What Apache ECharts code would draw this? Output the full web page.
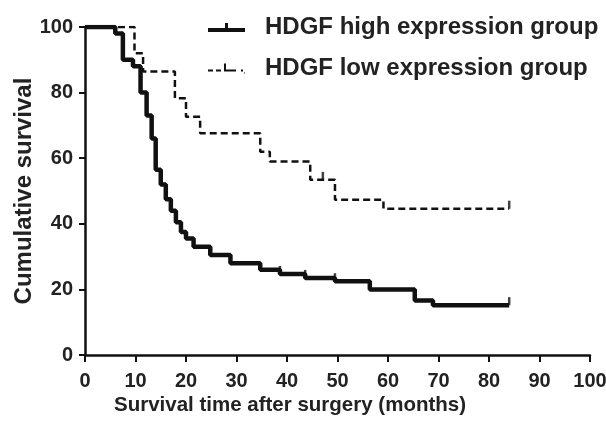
<!DOCTYPE html>
<html>
<head>
<meta charset="utf-8">
<script src="https://cdn.jsdelivr.net/npm/echarts@6/dist/echarts.min.js"></script>
<style>
body { margin: 0; background: #fff; }
#main { width: 606px; height: 421px; }
</style>
</head>
<body>
<div id="main"></div>
<script>
// Kaplan-Meier steps
var highTime = [0, 6, 7.5, 9.5, 11, 12.2, 13.2, 14, 15, 16, 17, 18, 19, 20, 21.5, 24.8, 28.8, 34.7, 38.6, 43.6, 49.5, 56.4, 65.3, 68.9, 84];
var highSurv = [100, 98, 90, 88, 80, 73, 66, 56.5, 52, 47.5, 44, 40.5, 37.5, 35.5, 33, 30.5, 28, 26, 24.7, 23.5, 22.5, 20, 16.6, 15.2, 15.2];
var lowTime = [0, 9.8, 11.5, 17.8, 20, 22.8, 34.7, 36.6, 44.6, 49.5, 59.1, 84];
var lowSurv = [100, 92, 86.4, 78.3, 72.6, 67.6, 62, 59, 53.4, 47.3, 44.6, 44.6];
// censored marks
var highCensorTime = [38.6, 43.6, 49.5, 84];
var highCensorSurv = [24.7, 23.5, 22.5, 15.2];
var lowCensorTime = [47.1, 84];
var lowCensorSurv = [53.4, 44.6];

var xTicks = [0, 10, 20, 30, 40, 50, 60, 70, 80, 90, 100];
var yTicks = [0, 20, 40, 60, 80, 100];
var seriesNames = ['HDGF high expression group', 'HDGF low expression group'];

function pairs(xs, ys) {
    var out = [];
    xs.forEach(function (v, i) { out.push([v, ys[i]]); });
    return out;
}

var txt = '#222';
var font = 'Liberation Sans, Arial, sans-serif';

var myChart = echarts.init(document.getElementById('main'), null, { renderer: 'canvas' });
var option = {
    animation: false,
    backgroundColor: '#fff',
    grid: { left: 85, right: 16, top: 27, bottom: 66, containLabel: false, outerBoundsMode: 'none' },
    legend: {
        orient: 'vertical',
        left: 208,
        top: 15,
        padding: 0,
        itemWidth: 37,
        itemHeight: 12,
        itemGap: 16,
        data: [
            { name: seriesNames[0], icon: 'path://M0,7H37V11H0Z M17,2H20V8H17Z' },
            { name: seriesNames[1], icon: 'path://M0,8H5V10H0Z M8,8H13V10H8Z M16,2H18V10H16Z M18,8H28V10H18Z M33,8H35V10H33Z M36,11H37V12H36Z' }
        ],
        textStyle: {
            color: txt, fontFamily: font, fontWeight: 'bold', fontSize: 24,
            lineHeight: 25, padding: [0, 0, 0, 15]
        }
    },
    xAxis: {
        type: 'value',
        min: xTicks[0],
        max: xTicks[xTicks.length - 1],
        interval: 10,
        name: 'Survival time after surgery (months)',
        nameLocation: 'middle',
        nameGap: 40,
        nameMoveOverlap: false,
        nameTextStyle: { color: txt, fontFamily: font, fontWeight: 'bold', fontSize: 20.5, padding: [0, 95, 0, 0] },
        axisLine: { lineStyle: { color: '#111', width: 2.5 } },
        axisTick: { length: 7, lineStyle: { color: '#111', width: 2 } },
        axisLabel: { color: txt, fontFamily: font, fontWeight: 'bold', fontSize: 20, margin: 16 },
        splitLine: { show: false }
    },
    yAxis: {
        type: 'value',
        min: yTicks[0],
        max: yTicks[yTicks.length - 1],
        interval: 20,
        name: 'Cumulative survival',
        nameLocation: 'middle',
        nameGap: 49,
        nameMoveOverlap: false,
        nameTextStyle: { color: txt, fontFamily: font, fontWeight: 'bold', fontSize: 24 },
        axisLine: { lineStyle: { color: '#111', width: 2.5 } },
        axisTick: { length: 6, lineStyle: { color: '#111', width: 2 } },
        axisLabel: { color: txt, fontFamily: font, fontWeight: 'bold', fontSize: 20, margin: 12 },
        splitLine: { show: false }
    },
    series: [
        {
            name: seriesNames[1],
            type: 'line',
            step: 'end',
            symbol: 'none',
            data: pairs(lowTime, lowSurv),
            color: '#111',
            lineStyle: { color: '#111', width: 2.5, type: [7, 4] },
            z: 2
        },
        {
            name: seriesNames[0],
            type: 'line',
            step: 'end',
            symbol: 'none',
            data: pairs(highTime, highSurv),
            color: '#111',
            lineStyle: { color: '#111', width: 4.5 },
            z: 3
        },
        {
            name: 'highCensor',
            type: 'scatter',
            symbol: 'rect',
            symbolSize: [2.5, 8],
            symbolOffset: [0, -4],
            data: pairs(highCensorTime, highCensorSurv),
            itemStyle: { color: '#111' },
            z: 4
        },
        {
            name: 'lowCensor',
            type: 'scatter',
            symbol: 'rect',
            symbolSize: [2.5, 8],
            symbolOffset: [0, -4],
            data: pairs(lowCensorTime, lowCensorSurv),
            itemStyle: { color: '#111' },
            z: 4
        }
    ]
};
myChart.setOption(option);
</script>
</body>
</html>
